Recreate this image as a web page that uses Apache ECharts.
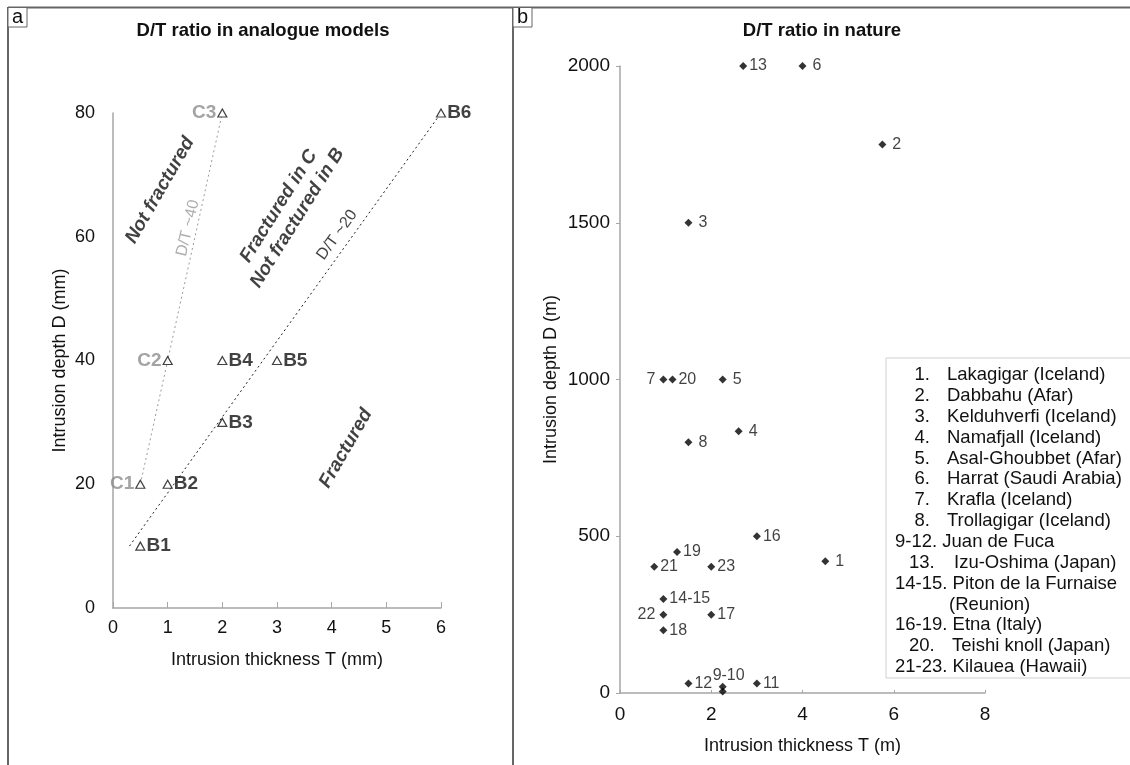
<!DOCTYPE html>
<html>
<head>
<meta charset="utf-8">
<script src="https://cdn.jsdelivr.net/npm/echarts@6/dist/echarts.min.js"></script>
<style>
  html, body { margin: 0; padding: 0; background: #fff; }
  #chart { width: 1130px; height: 765px; }
</style>
</head>
<body>
<div id="chart"></div>
<script>
// ---- Panel a: analogue models (T in mm, D in mm) ----
const cNames = ['C1', 'C2', 'C3'];
const cThickness = [0.5, 1, 2];
const cDepth = [20, 40, 80];

const bNames = ['B1', 'B2', 'B3', 'B4', 'B5', 'B6'];
const bThickness = [0.5, 1, 2, 2, 3, 6];
const bDepth = [10, 20, 30, 40, 40, 80];

// guide lines D/T ~40 and D/T ~20 (end points)
const dt40T = [0.5, 2];
const dt40D = [20, 80];
const dt20T = [0.3, 6];
const dt20D = [10, 80];

// ---- Panel b: natural intrusions (T in m, D in m) ----
const siteLabels = ['1', '2', '3', '4', '5', '6', '7', '8', '9-10', '', '11', '12', '13',
                    '14-15', '16', '17', '18', '19', '20', '21', '22', '23'];
const siteThickness = [4.5, 5.75, 1.5, 2.6, 2.25, 4.0, 0.95, 1.5, 2.25, 2.25, 3.0, 1.5, 2.7,
                       0.95, 3.0, 2.0, 0.95, 1.25, 1.15, 0.75, 0.95, 2.0];
const siteDepth = [420, 1750, 1500, 835, 1000, 2000, 1000, 800, 20, 5, 30, 30, 2000,
                   300, 500, 250, 200, 450, 1000, 403, 250, 403];
const leftLabelled = ['7', '22'];
const topLabelled = ['9-10'];
const spacedLabels = ['1', '2', '3', '4', '5', '6', '8'];

// legend rows: [number, name]
const legendRows = [
  ['1.', 'Lakagigar (Iceland)'],
  ['2.', 'Dabbahu (Afar)'],
  ['3.', 'Kelduhverfi (Iceland)'],
  ['4.', 'Namafjall (Iceland)'],
  ['5.', 'Asal-Ghoubbet (Afar)'],
  ['6.', 'Harrat (Saudi Arabia)'],
  ['7.', 'Krafla (Iceland)'],
  ['8.', 'Trollagigar (Iceland)'],
  ['9-12.', 'Juan de Fuca'],
  ['13.', 'Izu-Oshima (Japan)'],
  ['14-15.', 'Piton de la Furnaise'],
  ['', '(Reunion)'],
  ['16-19.', 'Etna (Italy)'],
  ['20.', 'Teishi knoll (Japan)'],
  ['21-23.', 'Kilauea (Hawaii)']
];

// ---- annotations placed in data space of panel a ----
const zoneTexts = [
  { text: 'Not fractured', t: 0.86, d: 67.5, rot: 60, kind: 'zone' },
  { text: 'D/T ~40', t: 1.37, d: 61.4, rot: 77, kind: 'grey' },
  { text: 'Fractured in C\nNot fractured in B', t: 3.2, d: 64, rot: 58, kind: 'zone' },
  { text: 'D/T ~20', t: 4.1, d: 60.3, rot: 54, kind: 'black' },
  { text: 'Fractured', t: 4.26, d: 25.8, rot: 60, kind: 'zone' }
];

const FONT = '"Liberation Sans", Arial, sans-serif';
const zip = (a, b) => a.map((v, i) => [v, b[i]]);

const chart = echarts.init(document.getElementById('chart'), null, { renderer: 'canvas' });

const axisLine = { show: true, lineStyle: { color: '#a6a6a6', width: 1.5 } };
const tickLabelA = { color: '#111', fontSize: 18, fontFamily: FONT };
const tickLabelB = { color: '#111', fontSize: 19, fontFamily: FONT, formatter: v => String(v) };
const axisName = { fontSize: 18, color: '#111', fontFamily: FONT };

// legend box graphic
const legendFont = '18.5px ' + FONT;
const legendChildren = [{
  type: 'rect',
  shape: { x: 886, y: 358, width: 260, height: 320 },
  style: { fill: '#fff', stroke: '#d0d0d0', lineWidth: 1 }
}];
legendRows.forEach((row, i) => {
  const y = 375 + i * 20.86;
  const num = row[0];
  const name = row[1];
  const text = (s, x, align) => legendChildren.push({
    type: 'text',
    style: { x: x, y: y, text: s, align: align, verticalAlign: 'middle', font: legendFont, fill: '#111' }
  });
  if (num.indexOf('-') >= 0) {
    text(num + ' ' + name, 895, 'left');
  } else if (num.length === 3) {
    text(num, 909, 'left');
    text(name, num === '20.' ? 952 : 954, 'left');
  } else if (num) {
    text(num, 930, 'right');
    text(name, 947, 'left');
  } else {
    text(name, 949, 'left');
  }
});

const option = {
  backgroundColor: '#fff',
  animation: false,
  title: [
    { text: 'D/T ratio in analogue models', left: 258, top: 16, textAlign: 'center',
      textStyle: { fontSize: 18.5, fontWeight: 'bold', color: '#111', fontFamily: FONT } },
    { text: 'D/T ratio in nature', left: 817, top: 16, textAlign: 'center',
      textStyle: { fontSize: 18.5, fontWeight: 'bold', color: '#111', fontFamily: FONT } }
  ],
  grid: [
    { left: 113, top: 113, width: 328, height: 495 },
    { left: 620, top: 66, width: 365, height: 627 }
  ],
  xAxis: [
    { gridIndex: 0, type: 'value', min: 0, max: 6, interval: 1,
      name: 'Intrusion thickness T (mm)', nameLocation: 'middle', nameGap: 43,
      nameTextStyle: axisName,
      axisLine: axisLine, axisTick: { show: true, inside: true, length: 6, lineStyle: { color: '#a6a6a6' } },
      axisLabel: Object.assign({ margin: 11 }, tickLabelA), splitLine: { show: false } },
    { gridIndex: 1, type: 'value', min: 0, max: 8, interval: 2,
      name: 'Intrusion thickness T (m)', nameLocation: 'middle', nameGap: 44,
      nameTextStyle: axisName,
      axisLine: axisLine, axisTick: { show: true, inside: true, length: 3, lineStyle: { color: '#a6a6a6' } },
      axisLabel: Object.assign({ margin: 12 }, tickLabelB), splitLine: { show: false } }
  ],
  yAxis: [
    { gridIndex: 0, type: 'value', min: 0, max: 80, interval: 20,
      name: 'Intrusion depth D (mm)', nameLocation: 'middle', nameGap: 44,
      nameTextStyle: axisName,
      axisLine: axisLine, axisTick: { show: false },
      axisLabel: Object.assign({ margin: 18 }, tickLabelA), splitLine: { show: false } },
    { gridIndex: 1, type: 'value', min: 0, max: 2000, interval: 500,
      name: 'Intrusion depth D (m)', nameLocation: 'middle', nameGap: 60,
      nameTextStyle: axisName,
      axisLine: axisLine, axisTick: { show: true, length: 4, lineStyle: { color: '#a6a6a6' } },
      axisLabel: Object.assign({ margin: 10 }, tickLabelB), splitLine: { show: false } }
  ],
  series: [
    { type: 'line', xAxisIndex: 0, yAxisIndex: 0, data: zip(dt40T, dt40D), symbol: 'none',
      lineStyle: { color: '#9a9a9a', width: 1, type: [2, 3] }, z: 1 },
    { type: 'line', xAxisIndex: 0, yAxisIndex: 0, data: zip(dt20T, dt20D), symbol: 'none',
      lineStyle: { color: '#222', width: 1, type: [2, 3] }, z: 1 },
    { type: 'scatter', xAxisIndex: 0, yAxisIndex: 0, data: zip(cThickness, cDepth),
      symbol: 'triangle', symbolSize: [9, 8],
      itemStyle: { color: '#fff', borderColor: '#111', borderWidth: 1.2 },
      label: { show: true, position: 'left', distance: 1, formatter: p => cNames[p.dataIndex],
               fontSize: 19, fontWeight: 'bold', color: '#8c8c8c', fontFamily: FONT }, z: 3 },
    { type: 'scatter', xAxisIndex: 0, yAxisIndex: 0, data: zip(bThickness, bDepth),
      symbol: 'triangle', symbolSize: [9, 8],
      itemStyle: { color: '#fff', borderColor: '#111', borderWidth: 1.2 },
      label: { show: true, position: 'right', distance: 1, formatter: p => bNames[p.dataIndex],
               fontSize: 19, fontWeight: 'bold', color: '#111', fontFamily: FONT }, z: 3 },
    { type: 'scatter', xAxisIndex: 0, yAxisIndex: 0, symbolSize: 0, silent: true,
      data: zoneTexts.map(z => ({
        value: [z.t, z.d],
        label: {
          show: true, position: 'inside', rotate: z.rot, formatter: z.text, align: 'center',
          fontFamily: FONT,
          fontSize: z.kind === 'zone' ? 19 : 16,
          fontWeight: z.kind === 'zone' ? 'bold' : 'normal',
          fontStyle: z.kind === 'zone' ? 'italic' : 'normal',
          color: z.kind === 'grey' ? '#9a9a9a' : '#111',
          lineHeight: 22
        }
      })), z: 2 },
    { type: 'scatter', xAxisIndex: 1, yAxisIndex: 1, data: [],
      symbol: 'diamond', symbolSize: 8, itemStyle: { color: '#000' },
      label: { show: true, fontSize: 16, color: '#111', fontFamily: FONT, distance: 2,
               formatter: p => siteLabels[p.dataIndex] },
      z: 3 }
  ],
  graphic: [
    // panel frame
    { type: 'line', shape: { x1: 8, y1: 7.5, x2: 1130, y2: 7.5 }, style: { stroke: '#666', lineWidth: 2 } },
    { type: 'line', shape: { x1: 8, y1: 7, x2: 8, y2: 765 }, style: { stroke: '#666', lineWidth: 2 } },
    { type: 'line', shape: { x1: 513, y1: 7, x2: 513, y2: 765 }, style: { stroke: '#666', lineWidth: 2 } },
    { type: 'rect', shape: { x: 8, y: 7.5, width: 19, height: 19.5 }, style: { fill: '#fff', stroke: '#666', lineWidth: 1 } },
    { type: 'text', style: { x: 17.5, y: 17, text: 'a', align: 'center', verticalAlign: 'middle', font: '20px ' + FONT, fill: '#111' } },
    { type: 'rect', shape: { x: 513, y: 7.5, width: 19, height: 19.5 }, style: { fill: '#fff', stroke: '#666', lineWidth: 1 } },
    { type: 'text', style: { x: 522.5, y: 17, text: 'b', align: 'center', verticalAlign: 'middle', font: '20px ' + FONT, fill: '#111' } },
    { type: 'group', children: legendChildren }
  ]
};

// label placement for the natural sites
option.series[5].data = zip(siteThickness, siteDepth).map((v, i) => {
  const lab = siteLabels[i];
  const label = { position: 'right' };
  if (spacedLabels.includes(lab)) label.distance = 6;
  if (leftLabelled.includes(lab)) { label.position = 'left'; label.distance = 4; }
  if (topLabelled.includes(lab)) { label.position = 'top'; label.offset = [6, 3]; }
  return { value: v, label: label };
});

chart.setOption(option);
</script>
</body>
</html>
